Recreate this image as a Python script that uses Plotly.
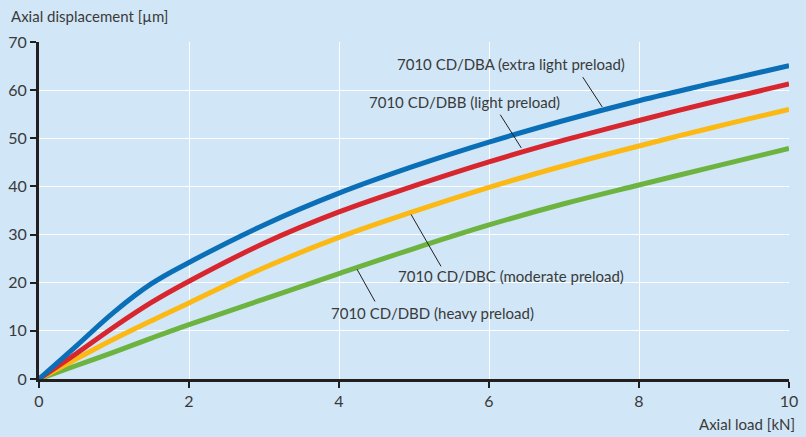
import plotly.graph_objects as go

load_kN = [0, 0.5, 1, 1.5, 2, 3, 4, 5, 6, 7, 8, 9, 10]
dba = [0, 6.9, 13.9, 19.8, 24.2, 32.0, 38.6, 44.2, 49.2, 53.7, 57.8, 61.5, 65.1]
dbb = [0, 5.3, 10.8, 15.9, 20.3, 28.2, 34.7, 40.1, 45.1, 49.6, 53.7, 57.6, 61.3]
dbc = [0, 4.2, 8.3, 12.1, 15.8, 23.1, 29.4, 34.8, 39.8, 44.3, 48.4, 52.3, 56.0]
dbd = [0, 2.8, 5.6, 8.5, 11.3, 16.6, 21.9, 27.1, 32.0, 36.4, 40.3, 44.1, 47.9]

series_names = ["7010 CD/DBA (extra light preload)", "7010 CD/DBB (light preload)",
                "7010 CD/DBC (moderate preload)", "7010 CD/DBD (heavy preload)"]
series_vals = [dba, dbb, dbc, dbd]
colors = ["#0a6fb7", "#d8262f", "#fcb813", "#6db33f"]

x_ticks = [0, 2, 4, 6, 8, 10]
y_ticks = [0, 10, 20, 30, 40, 50, 60, 70]

FONT = "Lato"
TXT = "#3a3a3a"
AX = "#231f20"

W, H = 806, 437
L, R, T, B = 39, 17, 42, 58
pw, ph = W - L - R, H - T - B

fig = go.Figure()
for name, vals, c in reversed(list(zip(series_names, series_vals, colors))):
    fig.add_trace(go.Scatter(x=load_kN, y=vals, mode="lines", name=name,
                             line=dict(color=c, width=5, shape="spline", smoothing=1.1),
                             hoverinfo="skip"))

labels = [
    (6.29, 65.4, (7.25, 62.7), (7.51, 56.5)),
    (5.67, 57.6, (6.15, 54.9), (6.43, 48.0)),
    (6.29, 21.3, (4.96, 34.2), (5.36, 23.4)),
    (5.25, 13.7, (4.24, 22.8), (4.48, 16.1)),
]
for name, (tx, ty, p0, p1) in zip(series_names, labels):
    fig.add_annotation(x=tx, y=ty, xref="x", yref="y", text=name, showarrow=False,
                       font=dict(family=FONT, size=15, color=TXT))
    fig.add_shape(type="line", x0=p0[0], y0=p0[1], x1=p1[0], y1=p1[1], xref="x", yref="y",
                  line=dict(color=AX, width=1))

fig.add_annotation(x=(9 - L) / pw, y=(H - B - 16) / ph, xref="paper", yref="paper",
                   xanchor="left", yanchor="middle", text="Axial displacement [µm]", showarrow=False,
                   font=dict(family=FONT, size=15, color=TXT))
fig.add_annotation(x=(797 - L) / pw, y=(H - B - 424) / ph, xref="paper", yref="paper",
                   xanchor="right", yanchor="middle", text="Axial load [kN]", showarrow=False,
                   font=dict(family=FONT, size=15, color=TXT))

fig.update_layout(
    width=W, height=H,
    margin=dict(l=L, r=R, t=T, b=B, autoexpand=False),
    paper_bgcolor="#d1e6f6", plot_bgcolor="#d1e6f6",
    showlegend=False,
    font=dict(family=FONT, size=15, color=TXT),
)
fig.update_xaxes(range=[0, 10], tickvals=x_ticks, ticktext=[str(v) for v in x_ticks],
                 showgrid=True, gridcolor="white", gridwidth=1, zeroline=False,
                 showline=True, linecolor=AX, linewidth=3, automargin=False,
                 ticks="outside", ticklen=6, tickwidth=2, tickcolor=AX,
                 tickfont=dict(family=FONT, size=16, color=TXT))
fig.update_yaxes(range=[0, 70], tickvals=y_ticks, ticktext=[str(v) for v in y_ticks],
                 showgrid=True, gridcolor="white", gridwidth=1, zeroline=False,
                 showline=True, linecolor=AX, linewidth=3, automargin=False,
                 ticks="outside", ticklen=6, tickwidth=2, tickcolor=AX,
                 tickfont=dict(family=FONT, size=16, color=TXT))

fig.write_html("out.html", config={"displayModeBar": False, "staticPlot": True},
               post_script="document.body.style.margin='0';document.body.style.overflow='hidden';")
